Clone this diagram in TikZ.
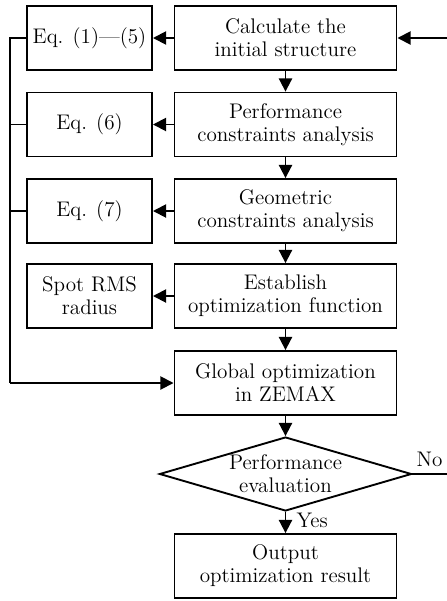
\documentclass[tikz,border=0pt]{standalone}
\usetikzlibrary{shapes.geometric,arrows.meta}

\begin{document}
\begin{tikzpicture}[x=0.53pt,y=-0.53pt,line width=1pt,
    font=\fontsize{11.2}{12.2}\selectfont,
    >={Triangle[length=7pt,width=7pt]},
    box/.style={draw,minimum width=117.7pt,minimum height=33.9pt,align=center,inner sep=1pt},
    side/.style={draw,minimum width=66.3pt,minimum height=33.9pt,align=center,inner sep=1pt},
    decide/.style={draw,diamond,aspect=3.4,minimum width=133.6pt,minimum height=39.2pt,inner sep=0pt,align=center}]
  \useasboundingbox (0,0) rectangle (446,601);
  % main column
  \node[box] (init) at (285.5,38) {Calculate the\\initial structure};
  \node[box] (perf) at (285.5,124.5) {Performance\\constraints analysis};
  \node[box] (geom) at (285.5,211) {Geometric\\constraints analysis};
  \node[box] (func) at (285.5,296) {Establish\\optimization function};
  \node[box] (zemax) at (285.5,383) {Global optimization\\in ZEMAX};
  \node[decide] (eval) at (285.5,474) {Performance\\evaluation};
  \node[box] (out) at (285.5,566) {Output\\optimization result};
  % side column
  \node[side] (eqa) at (89.5,38) {Eq. (1)---(5)};
  \node[side] (eqb) at (89.5,124.5) {Eq. (6)};
  \node[side] (eqc) at (89.5,211) {Eq. (7)};
  \node[side] (spot) at (89.5,296) {Spot RMS\\radius};
  \coordinate (top) at (10,38);
  \coordinate (bot) at (10,383);
  \coordinate (nob) at (455,474);
  \coordinate (not) at (455,38);

  \draw[->] (init) -- (perf);
  \draw[->] (perf) -- (geom);
  \draw[->] (geom) -- (func);
  \draw[->] (func) -- (zemax);
  \draw[->] (zemax) -- (eval);
  \draw[->] (eval) -- node[right,pos=0.4,xshift=2pt] {Yes} (out);
  \draw[->] (init) -- (eqa);
  \draw[->] (perf) -- (eqb);
  \draw[->] (geom) -- (eqc);
  \draw[->] (func) -- (spot);
  \draw (eqa.west) -- (top) -- (bot);
  \draw (eqb.west) -- (eqb.west -| top);
  \draw (eqc.west) -- (eqc.west -| top);
  \draw[->] (bot) -- (zemax);
  \draw[->] (eval.east) -- node[above,pos=0.4] {No} (nob) -- (not) -- (init);
\end{tikzpicture}
\end{document}
